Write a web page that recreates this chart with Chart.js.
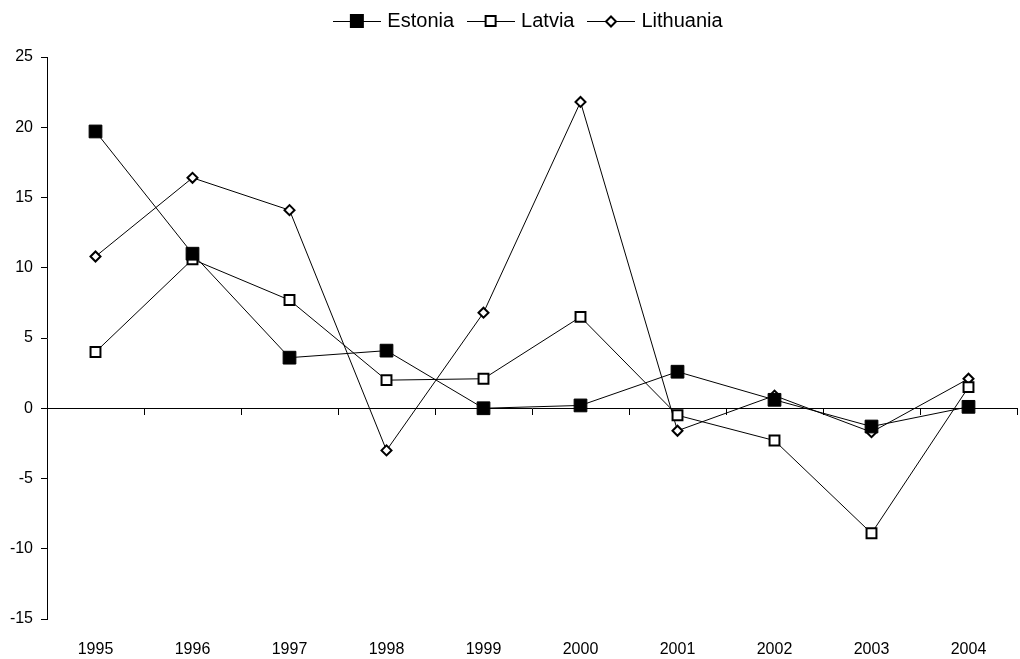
<!DOCTYPE html>
<html>
<head>
<meta charset="utf-8">
<script src="https://cdn.jsdelivr.net/npm/chart.js@4.4.1/dist/chart.umd.min.js"></script>
<style>
  html, body { margin: 0; padding: 0; background: #fff; }
  #wrap { position: relative; width: 1020px; height: 659px; }
</style>
</head>
<body>
<div id="wrap"><canvas id="c"></canvas></div>
<script>
// Annual figures, percent
const years = ['1995', '1996', '1997', '1998', '1999', '2000', '2001', '2002', '2003', '2004'];
const estonia   = [19.7, 11.0, 3.6, 4.1, 0.0, 0.2, 2.6, 0.6, -1.3, 0.1];
const latvia    = [4.0, 10.6, 7.7, 2.0, 2.1, 6.5, -0.5, -2.3, -8.9, 1.5];
const lithuania = [10.8, 16.4, 14.1, -3.0, 6.8, 21.8, -1.6, 0.9, -1.7, 2.1];
const yTicks = [-15, -10, -5, 0, 5, 10, 15, 20, 25];

const INK = '#000000';
const TICK_FONT = { family: "'Liberation Sans', Arial, sans-serif", size: 16 };
const LEGEND_FONT = { family: "'Liberation Sans', Arial, sans-serif", size: 20 };

// Legend swatch: short line with the series marker in the middle
function swatch(kind) {
  const cv = document.createElement('canvas');
  cv.width = 48; cv.height = 16;
  const g = cv.getContext('2d');
  g.strokeStyle = INK; g.lineWidth = 1;
  g.beginPath(); g.moveTo(0, 8.5); g.lineTo(48, 8.5); g.stroke();
  if (kind === 'filled') {
    g.fillStyle = INK; g.fillRect(17, 1, 14, 14);
  } else if (kind === 'hollow') {
    g.fillStyle = '#fff'; g.fillRect(19, 3, 10, 10);
    g.lineWidth = 2; g.strokeRect(19, 3, 10, 10);
  } else {
    g.fillStyle = '#fff'; g.lineWidth = 2;
    g.beginPath(); g.moveTo(24, 3.5); g.lineTo(29, 8.5); g.lineTo(24, 13.5); g.lineTo(19, 8.5); g.closePath();
    g.fill(); g.stroke();
  }
  return cv;
}
const swatches = [swatch('filled'), swatch('hollow'), swatch('diamond')];

// Legend placement: a gap below it, pulled up a little and nudged right
const legendPlace = {
  id: 'legendPlace',
  beforeLayout(chart) {
    const lg = chart.legend;
    if (lg && !lg._placePatched) {
      const fit = lg.fit;
      lg.fit = function () { fit.call(this); this.height += 9; };
      lg._placePatched = true;
    }
  },
  afterLayout(chart) {
    const lg = chart.legend;
    if (lg) { lg.top -= 7; lg.left += 42; }
  }
};

new Chart(document.getElementById('c'), {
  type: 'line',
  data: {
    labels: years,
    datasets: [
      { label: 'Estonia', data: estonia, borderColor: INK, borderWidth: 1,
        pointStyle: 'rect', pointRadius: 9, pointBackgroundColor: INK, pointBorderColor: INK, pointBorderWidth: 1 },
      { label: 'Latvia', data: latvia, borderColor: INK, borderWidth: 1,
        pointStyle: 'rect', pointRadius: 7, pointBackgroundColor: '#fff', pointBorderColor: INK, pointBorderWidth: 2 },
      { label: 'Lithuania', data: lithuania, borderColor: INK, borderWidth: 1,
        pointStyle: 'rectRot', pointRadius: 5, pointBackgroundColor: '#fff', pointBorderColor: INK, pointBorderWidth: 2 }
    ]
  },
  plugins: [legendPlace],
  options: {
    responsive: true,
    maintainAspectRatio: false,
    animation: false,
    layout: { autoPadding: false, padding: { left: 0, right: 3, top: 2, bottom: 0 } },
    elements: { line: { tension: 0 } },
    plugins: {
      tooltip: { enabled: false },
      legend: {
        position: 'top',
        labels: {
          color: INK,
          font: LEGEND_FONT,
          usePointStyle: true,
          pointStyleWidth: 41,
          padding: 16,
          generateLabels(chart) {
            const items = Chart.defaults.plugins.legend.labels.generateLabels(chart);
            items.forEach((it, i) => { it.pointStyle = swatches[i]; });
            return items;
          }
        }
      }
    },
    scales: {
      x: {
        type: 'category',
        position: { y: 0 },
        offset: true,
        ticks: { display: false },
        grid: { display: true, offset: true, drawOnChartArea: false, drawTicks: true, tickLength: 6, color: INK, lineWidth: 1 },
        border: { display: true, color: INK, width: 1 }
      },
      xLabels: {
        type: 'category',
        labels: years,
        position: 'bottom',
        offset: true,
        grid: { display: false },
        border: { display: false },
        ticks: { color: INK, font: TICK_FONT, padding: 13, maxRotation: 0, autoSkip: false },
        afterFit(scale) { scale.height = 40; }
      },
      y: {
        min: -15,
        max: 25,
        afterBuildTicks(scale) { scale.ticks = yTicks.map(v => ({ value: v })); },
        ticks: { color: INK, font: TICK_FONT, padding: 8 },
        grid: { display: true, drawOnChartArea: false, drawTicks: true, tickLength: 6, color: INK, lineWidth: 1 },
        border: { display: true, color: INK, width: 1 },
        afterFit(scale) { scale.width = 47; }
      }
    }
  }
});
</script>
</body>
</html>
